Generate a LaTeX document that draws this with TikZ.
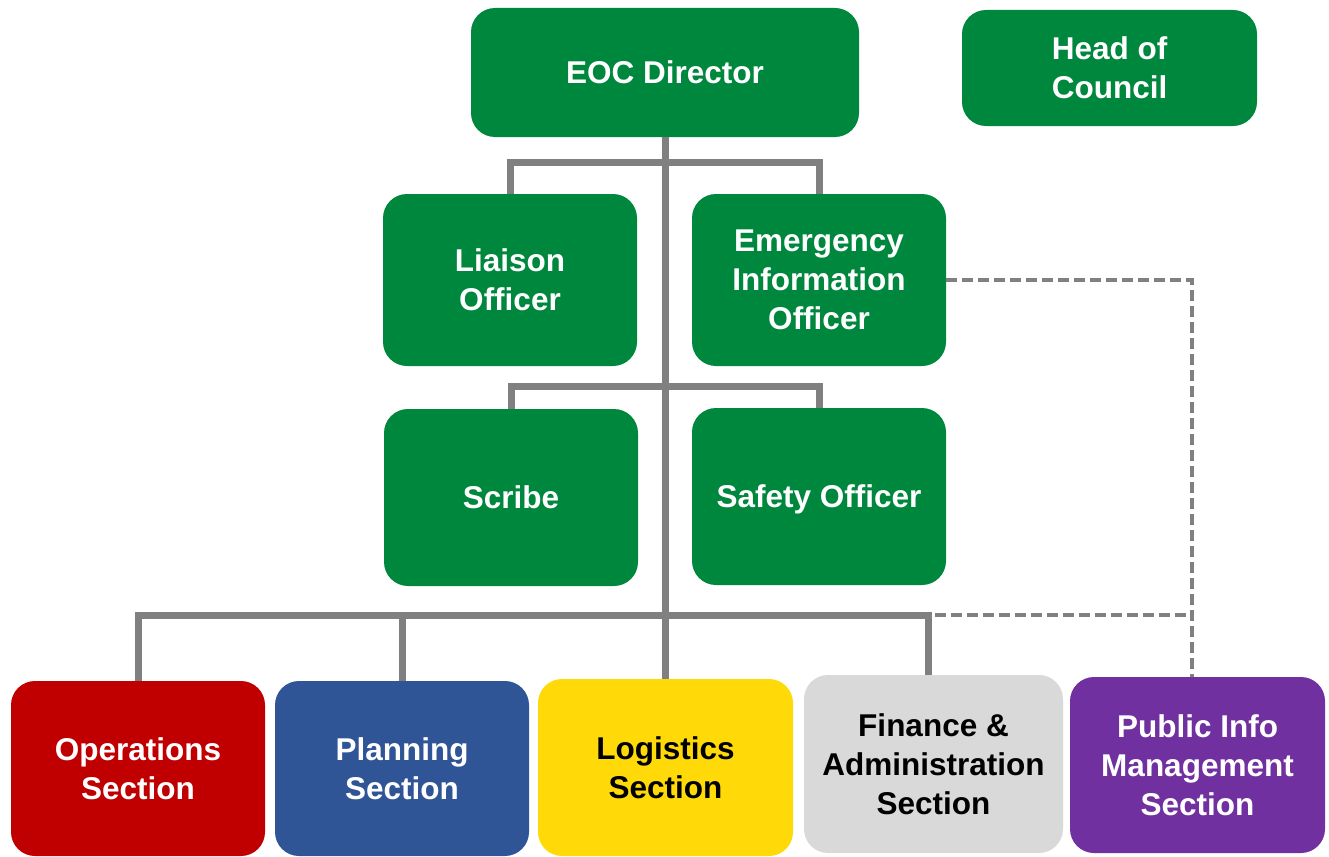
\documentclass[tikz,border=0pt]{standalone}
\usepackage{fontspec}
\setmainfont{Liberation Sans}
\definecolor{eocgreen}{RGB}{0,135,62}
\definecolor{opsred}{RGB}{192,0,0}
\definecolor{planblue}{RGB}{47,85,151}
\definecolor{logyellow}{RGB}{255,217,8}
\definecolor{fingray}{RGB}{217,217,217}
\definecolor{pubpurple}{RGB}{112,48,160}
\definecolor{linegray}{RGB}{128,128,128}
\begin{document}
\begin{tikzpicture}[x=1pt,y=-1pt,
  box/.style={rounded corners=24pt, inner sep=0pt, align=center,
    font=\fontsize{31.5}{39}\selectfont\bfseries, text=white, fill=eocgreen},
  size/.style 2 args={minimum width=#1pt, minimum height=#2pt},
  conn/.style={draw=linegray, line width=7pt, line join=miter},
  dashline/.style={draw=linegray, line width=3.5pt, dash pattern=on 11pt off 5pt}]
\useasboundingbox (0,0) rectangle (1329,856);

% command staff
\node[box, size={388}{129}] (eoc) at (665,72.5) {EOC Director};
\node[box, size={295}{116}] (head) at (1109.5,68) {Head of\\Council};
\node[box, size={254}{172}] (liaison) at (510,280) {Liaison\\Officer};
\node[box, size={254}{172}] (eio) at (819,280) {Emergency\\Information\\Officer};
\node[box, size={254}{177}] (scribe) at (511,497.5) {Scribe};
\node[box, size={254}{177}] (safety) at (819,496.5) {\raisebox{0pt}[\height][0pt]{Safety Officer}};

% sections
\node[box, size={254}{175}, fill=opsred] (ops) at (138,768.5) {Operations\\Section};
\node[box, size={254}{175}, fill=planblue] (plan) at (402,768.5) {Planning\\Section};
\node[box, size={255}{177}, fill=logyellow, text=black] (log) at (665.5,767.5) {Logistics\\Section};
\node[box, size={259}{178}, fill=fingray, text=black] (fin) at (933.5,764) {Finance \&\\Administration\\Section};
\node[box, size={255}{176}, fill=pubpurple] (pub) at (1197.5,765) {Public Info\\Management\\Section};

% helper points for the section bus
\coordinate (busy) at (0,615);
\coordinate (findrop) at ([xshift=-5.5pt]fin.north);
\coordinate (pubdrop) at ([xshift=-5.5pt]pub.north);
\coordinate (dashstart) at (935,615);

% solid reporting lines
\draw[conn] (eoc.south) -- (eoc.south |- log.north);
\draw[conn] (liaison.north) -- ++(0,-31) -| (eio.north);
\draw[conn] (scribe.north) -- ++(0,-22) -| (safety.north);
\draw[conn] (ops.north) |- (findrop |- busy) -- (findrop);
\draw[conn] (plan.north) -- (plan.north |- busy);

% dashed coordination lines
\draw[dashline] (eio.east) -| (pubdrop);
\draw[dashline] (dashstart) -- (dashstart -| pubdrop);
\end{tikzpicture}
\end{document}
